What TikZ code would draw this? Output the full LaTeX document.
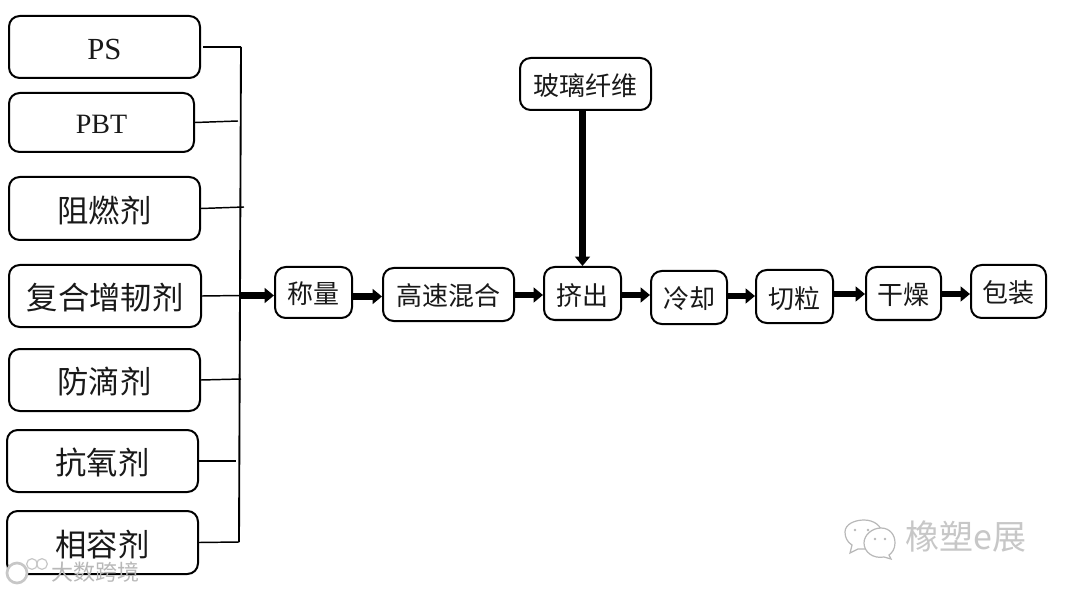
\documentclass[tikz,border=0pt]{standalone}
\usepackage{fontspec}
\setmainfont{Liberation Serif}
\newfontfamily\cjk{Noto Sans CJK SC}
\usetikzlibrary{arrows.meta}
\tikzset{
  x=0.75pt,y=-0.75pt,
  boxbase/.style={draw=black,line width=1.5pt,rounded corners=8pt,inner sep=0pt,align=center,text=black!90},
  bigbox/.style={boxbase,font=\cjk\fontsize{23.5}{24}\selectfont},
  latinbox/.style={boxbase,font=\fontsize{23}{23}\selectfont},
  narrowbox/.style={boxbase,font=\fontsize{21}{23}\selectfont},
  smallbox/.style={boxbase,font=\cjk\fontsize{19.5}{20}\selectfont},
  feed/.style={draw=black,line width=1.1pt},
  bus/.style={draw=black,line width=1.4pt},
  flow/.style={draw=black,line width=5.2pt,-{Triangle[length=7pt,width=11pt]}},
  wmark/.style={text=black!22,font=\cjk\fontsize{25.5}{26}\selectfont,inner sep=0pt},
  wmarksmall/.style={text=black!28,font=\cjk\fontsize{16.5}{17}\selectfont,inner sep=0pt},
  bubble/.style={draw=black!28,line width=0.9pt,fill=white},
}
\newcommand{\bx}[7]{\node[#1,minimum width=#5*0.75pt-#3*0.75pt,minimum height=#6*0.75pt-#4*0.75pt] (#2) at ({(#3+#5)/2},{(#4+#6)/2}) {\raisebox{-1.2pt}[\height][\depth]{#7}};}
\begin{document}
\begin{tikzpicture}
\useasboundingbox (0,0) rectangle (1066,591);
\fill[white] (0,0) rectangle (1066,591);

\bx{latinbox}{ps}{9}{16}{200}{78}{\raisebox{-0.8pt}[\height][\depth]{PS}}
\bx{narrowbox}{pbt}{9}{93}{194}{152}{PBT}
\bx{bigbox}{zuran}{9}{177}{200}{240}{阻燃剂}
\bx{bigbox}{fuhe}{9}{265}{201}{327}{复合增韧剂}
\bx{bigbox}{fangdi}{9}{349}{200}{411}{防滴剂}
\bx{bigbox}{kangyang}{7}{430}{198}{492}{抗氧剂}
\bx{bigbox}{xiangrong}{7}{511}{198}{574}{相容剂}

\bx{smallbox}{cheng}{275}{267}{352}{318}{称量}
\bx{smallbox}{gaosu}{383}{268}{514}{321}{高速混合}
\bx{smallbox}{jichu}{544}{267}{621}{320}{挤出}
\bx{smallbox}{lengque}{651}{271}{727}{324}{冷却}
\bx{smallbox}{qieli}{756}{270}{833}{323}{切粒}
\bx{smallbox}{ganzao}{866}{267}{941}{320}{干燥}
\bx{smallbox}{baozhuang}{971}{265}{1046}{318}{包装}
\bx{smallbox}{boli}{520}{58}{651}{110}{玻璃纤维}

% bus
\coordinate (bustop) at (241,47);
\coordinate (busbot) at (239,542);
\coordinate (busmid) at (241,295.5);
\coordinate (j2) at (238,121);
\coordinate (j3) at (244,207);
\coordinate (j5) at (241,379);
\coordinate (j6) at (236,461);
\draw[bus] (bustop) -- (busbot);
\draw[feed] (ps.east |- bustop) ++(2,0) -- (bustop);
\draw[feed] (pbt.east) -- (j2);
\draw[feed] (zuran.east) -- (j3);
\draw[feed] (fuhe.east) -- (busmid);
\draw[feed] (fangdi.east) -- (j5);
\draw[feed] (kangyang.east) -- (j6);
\draw[feed] (xiangrong.east) -- (busbot);

% flow levels
\coordinate (l1) at (0,296.5);
\coordinate (l2) at (0,295);
\coordinate (l3) at (0,295);
\coordinate (l4) at (0,296);
\coordinate (l5) at (0,294);
\coordinate (l6) at (0,294);

% flow arrows
\draw[flow] (busmid) -- (cheng.west |- busmid);
\draw[flow] (cheng.east |- l1) -- (gaosu.west |- l1);
\draw[flow] (gaosu.east |- l2) -- (jichu.west |- l2);
\draw[flow] (jichu.east |- l3) -- (lengque.west |- l3);
\draw[flow] (lengque.east |- l4) -- (qieli.west |- l4);
\draw[flow] (qieli.east |- l5) -- (ganzao.west |- l5);
\draw[flow] (ganzao.east |- l6) -- (baozhuang.west |- l6);
\draw[flow] (boli.south -| jichu.north) -- (jichu.north);

% watermarks
\node[wmark,anchor=west] (wmtext) at (905,537) {橡塑e展};
\path[bubble] (845,532)
  .. controls (845,524) and (855,520) .. (864,520)
  .. controls (874,520) and (882,526) .. (882,534)
  .. controls (882,543) and (874,549) .. (864,549) -- (858,549) -- (850,553)
  -- (852,545) .. controls (847,542) and (845,537) .. (845,532) -- cycle;
\path[bubble] (881,528) .. controls (890,528) and (895,535) .. (895,543)
  .. controls (895,549) and (892,553) .. (889,555) -- (891,559) -- (884,557)
  .. controls (873,559) and (864,552) .. (864,543)
  .. controls (864,535) and (872,528) .. (881,528) -- cycle;
\fill[black!28] (855,530) circle (1.1pt) (868,530) circle (1.1pt) (875,539) circle (1.1pt) (885,539) circle (1.1pt);
\node[wmarksmall,anchor=west] (wmsmall) at (51,572) {大数跨境};
\draw[draw=black!22,line width=2pt,fill=white] (17,573) circle (7.5pt);
\draw[draw=black!22,line width=0.9pt,fill=white] (32,564) circle (4pt) (42,564) circle (4pt);
\end{tikzpicture}
\end{document}
